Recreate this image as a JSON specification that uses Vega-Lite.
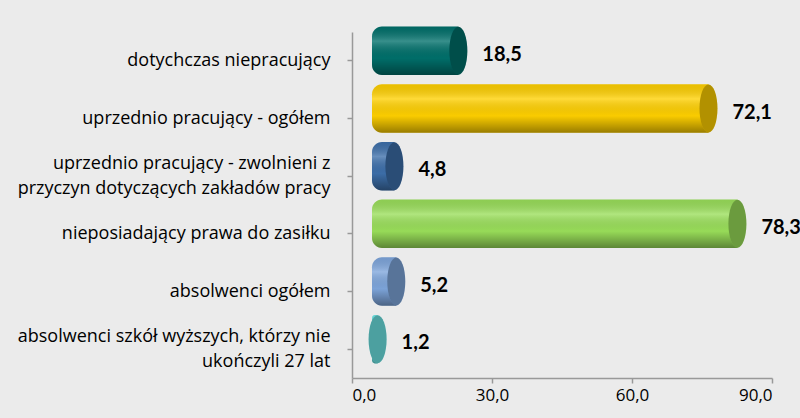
{
  "$schema": "https://vega.github.io/schema/vega-lite/v6.json",
  "width": 420,
  "height": 346,
  "autosize": "none",
  "padding": {"left": 352, "top": 32, "right": 28, "bottom": 40},
  "background": "#EBEBEB",
  "config": {"view": {"stroke": null}, "font": "Open Sans"},
  "data": {
    "values": [
      {"category": "dotychczas niepracujący", "value": 18.5},
      {"category": "uprzednio pracujący - ogółem", "value": 72.1},
      {"category": "uprzednio pracujący - zwolnieni z|przyczyn dotyczących zakładów pracy", "value": 4.8},
      {"category": "nieposiadający prawa do zasiłku", "value": 78.3},
      {"category": "absolwenci ogółem", "value": 5.2},
      {"category": "absolwenci szkół wyższych, którzy nie|ukończyli 27 lat", "value": 1.2}
    ]
  },
  "encoding": {
    "y": {
      "field": "category",
      "type": "nominal",
      "sort": null,
      "scale": {"paddingInner": 0.16, "paddingOuter": 0.08},
      "axis": {
        "title": null,
        "labelExpr": "split(datum.label, '|')",
        "labelFont": "Open Sans",
        "labelFontSize": 18,
        "labelColor": "#000000",
        "labelLineHeight": 25,
        "labelLimit": 400,
        "labelPadding": 17,
        "labelOffset": {"condition": {"test": "indexof(datum.value, '|') >= 0", "value": -12}, "value": 0},
        "tickSize": 5,
        "tickColor": "#999999",
        "domainColor": "#999999",
        "domainWidth": 1.5,
        "tickWidth": 1.5
      }
    }
  },
  "layer": [
    {
      "mark": {"type": "bar", "xOffset": 20, "x2Offset": 20, "yOffset": -10, "cornerRadiusTopLeft": 10, "cornerRadiusBottomLeft": 10},
      "encoding": {
        "x": {
          "field": "value",
          "type": "quantitative",
          "scale": {"domain": [0, 90], "nice": false},
          "axis": {
            "title": null,
            "values": [0, 30, 60, 90],
            "labelExpr": "replace(format(datum.value, '.1f'), '.', ',')",
            "grid": false,
            "labelFont": "Open Sans",
            "labelFontSize": 17,
            "labelColor": "#000000",
            "labelPadding": 4,
            "tickSize": 5,
            "tickColor": "#999999",
            "domainColor": "#999999",
            "domainWidth": 1.5,
            "tickWidth": 1.5
          }
        },
        "x2": {"datum": 0},
        "color": {
          "field": "category",
          "type": "nominal",
          "sort": null,
          "scale": {"range": ["#00706B", "#FFD000", "#3D6FAA", "#9ADF5A", "#7EA6DC", "#6EE6E6"]},
          "legend": null
        }
      }
    },
    {
      "mark": {
        "type": "bar",
        "xOffset": 20,
        "x2Offset": 20,
        "yOffset": -10,
        "cornerRadiusTopLeft": 10,
        "cornerRadiusBottomLeft": 10,
        "color": {
          "gradient": "linear",
          "x1": 0, "y1": 0, "x2": 0, "y2": 1,
          "stops": [
            {"offset": 0, "color": "rgba(0,0,0,0.08)"},
            {"offset": 0.3, "color": "rgba(255,255,255,0.22)"},
            {"offset": 0.65, "color": "rgba(0,0,0,0.02)"},
            {"offset": 1, "color": "rgba(0,0,0,0.4)"}
          ]
        }
      },
      "encoding": {
        "x": {"field": "value", "type": "quantitative"},
        "x2": {"datum": 0}
      }
    },
    {
      "mark": {
        "type": "point",
        "filled": true,
        "opacity": 1,
        "xOffset": 20,
        "yOffset": -10,
        "size": 2304,
        "shape": "M0,-1A0.375,1,0,1,1,0,1A0.375,1,0,1,1,0,-1Z"
      },
      "encoding": {
        "x": {"field": "value", "type": "quantitative"},
        "color": {"field": "category", "type": "nominal", "sort": null, "legend": null}
      }
    },
    {
      "mark": {
        "type": "point",
        "filled": true,
        "color": "#000000",
        "opacity": 0.3,
        "xOffset": 20,
        "yOffset": -10,
        "size": 2304,
        "shape": "M0,-1A0.375,1,0,1,1,0,1A0.375,1,0,1,1,0,-1Z"
      },
      "encoding": {
        "x": {"field": "value", "type": "quantitative"}
      }
    },
    {
      "mark": {
        "type": "text",
        "align": "left",
        "baseline": "middle",
        "dx": 44,
        "dy": -6,
        "font": "Lato",
        "fontSize": 20,
        "fontWeight": "bold",
        "color": "#000000",
        "text": {"expr": "replace(format(datum.value, '.1f'), '.', ',')"}
      },
      "encoding": {
        "x": {"field": "value", "type": "quantitative"}
      }
    }
  ]
}
